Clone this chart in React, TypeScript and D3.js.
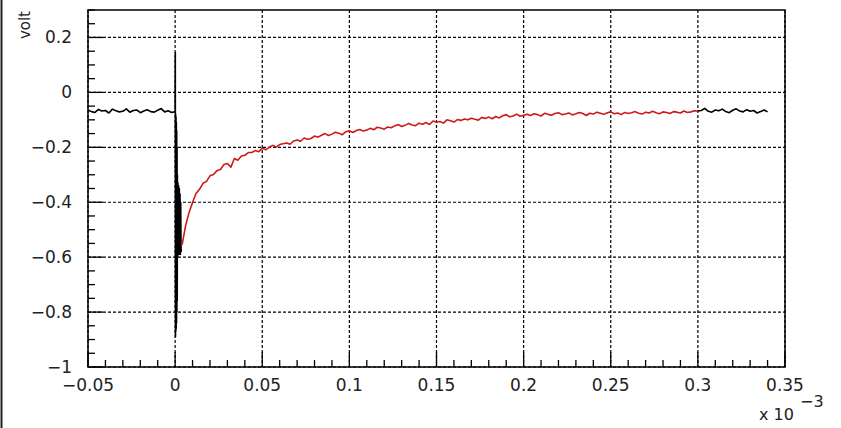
import React from "react";
import * as d3 from "d3";

// ---- data (x axis in units of 1e-3 s, y in volt) ----
const SAMPLE_STEP = 0.002;
const PRE_START = -0.05;
const preVolt = [
  -0.064, -0.070, -0.073, -0.062, -0.068, -0.066, -0.075, -0.061, -0.067, -0.071,
  -0.069, -0.060, -0.072, -0.066, -0.064, -0.074, -0.068, -0.063, -0.070, -0.072,
  -0.065, -0.059, -0.071, -0.067, -0.073,
];
const spikeTime = [
  0.0, 0.0001, 0.0002, 0.0003, 0.0004, 0.0005, 0.0006, 0.0007, 0.0008, 0.0009,
  0.001, 0.0011, 0.0012, 0.0013, 0.0014, 0.0016, 0.0018, 0.002, 0.0022, 0.0024,
  0.0026, 0.0028, 0.003, 0.0032, 0.0034, 0.0036,
];
const spikeVolt = [
  -0.07, 0.145, -0.89, -0.08, -0.87, -0.09, -0.86, -0.11, -0.84, -0.14,
  -0.8, -0.2, -0.76, -0.3, -0.6, -0.33, -0.58, -0.34, -0.59, -0.35,
  -0.58, -0.37, -0.59, -0.4, -0.58, -0.57,
];
const FIT_START = 0.004;
const fitVolt = [
  -0.555, -0.486, -0.437, -0.401, -0.368, -0.353, -0.331, -0.324, -0.304, -0.299,
  -0.285, -0.281, -0.263, -0.259, -0.272, -0.241, -0.247, -0.232, -0.229, -0.219,
  -0.219, -0.212, -0.216, -0.203, -0.209, -0.200, -0.193, -0.199, -0.190, -0.187,
  -0.184, -0.189, -0.177, -0.173, -0.178, -0.166, -0.171, -0.168, -0.159, -0.163,
  -0.156, -0.150, -0.157, -0.152, -0.145, -0.149, -0.154, -0.143, -0.140, -0.146,
  -0.139, -0.135, -0.141, -0.137, -0.131, -0.136, -0.127, -0.130, -0.134, -0.126,
  -0.129, -0.122, -0.117, -0.124, -0.120, -0.113, -0.119, -0.121, -0.112, -0.116,
  -0.110, -0.117, -0.104, -0.109, -0.106, -0.112, -0.100, -0.103, -0.108, -0.099,
  -0.102, -0.097, -0.100, -0.094, -0.098, -0.101, -0.091, -0.095, -0.090, -0.096,
  -0.088, -0.093, -0.085, -0.081, -0.089, -0.086, -0.079, -0.087, -0.083, -0.080,
  -0.084, -0.078, -0.081, -0.086, -0.076, -0.080, -0.083, -0.077, -0.074, -0.081,
  -0.079, -0.075, -0.082, -0.078, -0.073, -0.077, -0.084, -0.076, -0.079, -0.072,
  -0.076, -0.080, -0.074, -0.071, -0.078, -0.075, -0.081, -0.073, -0.077, -0.074,
  -0.070, -0.076, -0.079, -0.072, -0.075, -0.069, -0.074, -0.078, -0.071, -0.073,
  -0.077, -0.070, -0.072, -0.075, -0.068, -0.073, -0.071, -0.067, -0.068,
];
const POST_START = 0.3;
const postVolt = [
  -0.068, -0.066, -0.058, -0.069, -0.072, -0.064, -0.067, -0.061, -0.070, -0.074,
  -0.065, -0.060, -0.068, -0.071, -0.063, -0.069, -0.066, -0.075, -0.070, -0.064, -0.071,
];
const xTickValues = [-0.05, 0, 0.05, 0.1, 0.15, 0.2, 0.25, 0.3, 0.35];
const xTickLabels = ["\u22120.05", "0", "0.05", "0.1", "0.15", "0.2", "0.25", "0.3", "0.35"];
const yTickValues = [-1, -0.8, -0.6, -0.4, -0.2, 0, 0.2];
const yTickLabels = ["\u22121", "\u22120.8", "\u22120.6", "\u22120.4", "\u22120.2", "0", "0.2"];
const yLabel = "volt";

const W = 841;
const H = 428;
const L = 88, R = 785, T = 10, B = 367;
const FONT = "'DejaVu Sans', 'Liberation Sans', Arial, sans-serif";

export default function App() {
  const x = d3.scaleLinear().domain([-0.05, 0.35]).range([L, R]);
  const y = d3.scaleLinear().domain([-1, 0.3]).range([B, T]);
  const line = d3.line<[number, number]>().x((d) => x(d[0])).y((d) => y(d[1]));

  const prePts: [number, number][] = preVolt.map((v, i) => [PRE_START + i * SAMPLE_STEP, v]);
  const spikePts: [number, number][] = spikeTime.map((t, i) => [t, spikeVolt[i]]);
  const blackPre = prePts.concat(spikePts);
  const fitPts: [number, number][] = fitVolt.map((v, i) => [FIT_START + i * SAMPLE_STEP, v]);
  const postPts: [number, number][] = postVolt.map((v, i) => [POST_START + i * SAMPLE_STEP, v]);

  const xMinor = d3.range(-0.05, 0.3501, 0.01).map((v) => Math.round(v * 1000) / 1000);
  const yMinor = d3.range(-1, 0.3001, 0.05).map((v) => Math.round(v * 1000) / 1000);

  return (
    <svg width={W} height={H} style={{ position: "absolute", left: 0, top: 0, background: "#fff" }}>
      <rect x={0} y={0} width={W} height={H} fill="#fff" />
      <line x1={1.5} x2={1.5} y1={0} y2={H} stroke="#222" strokeWidth={2} />
      {/* grid */}
      {xTickValues.map((v, i) => (
        <line key={"gx" + i} x1={x(v)} x2={x(v)} y1={T} y2={B} stroke="#000" strokeWidth={1.2} strokeDasharray="3,2" />
      ))}
      {yTickValues.map((v, i) => (
        <line key={"gy" + i} x1={L} x2={R} y1={y(v)} y2={y(v)} stroke="#000" strokeWidth={1.2} strokeDasharray="3,2" />
      ))}
      {/* ticks */}
      {xMinor.map((v, i) => {
        const major = xTickValues.some((m) => Math.abs(m - v) < 1e-6);
        return <line key={"tx" + i} x1={x(v)} x2={x(v)} y1={B} y2={B - (major ? 15 : 7)} stroke="#000" strokeWidth={1.3} />;
      })}
      {yMinor.map((v, i) => {
        const major = yTickValues.some((m) => Math.abs(m - v) < 1e-6);
        return <line key={"ty" + i} x1={L} x2={L + (major ? 15 : 7)} y1={y(v)} y2={y(v)} stroke="#000" strokeWidth={1.3} />;
      })}
      {/* traces */}
      <path d={line(blackPre) || ""} fill="none" stroke="#000" strokeWidth={1.6} strokeLinejoin="round" />
      <path d={line(fitPts) || ""} fill="none" stroke="#cc1a1a" strokeWidth={1.6} strokeLinejoin="round" />
      <path d={line(postPts) || ""} fill="none" stroke="#000" strokeWidth={1.6} strokeLinejoin="round" />
      {/* frame */}
      <rect x={L} y={T} width={R - L} height={B - T} fill="none" stroke="#000" strokeWidth={1.5} />
      {/* tick labels */}
      {xTickValues.map((v, i) => (
        <text key={"lx" + i} x={x(v)} y={391} textAnchor="middle" fontFamily={FONT} fontSize={17} fill="#222">
          {xTickLabels[i]}
        </text>
      ))}
      {yTickValues.map((v, i) => (
        <text key={"ly" + i} x={72} y={y(v) + 6} textAnchor="end" fontFamily={FONT} fontSize={17} fill="#222">
          {yTickLabels[i]}
        </text>
      ))}
      <text transform="translate(30,11) rotate(-90)" textAnchor="end" fontFamily={FONT} fontSize={15} fill="#222">
        {yLabel}
      </text>
      <text x={759} y={420} fontFamily={FONT} fontSize={16} fill="#222">
        x 10
      </text>
      <text x={800} y={407} fontFamily={FONT} fontSize={16} fill="#222">
        {"\u22123"}
      </text>
    </svg>
  );
}
